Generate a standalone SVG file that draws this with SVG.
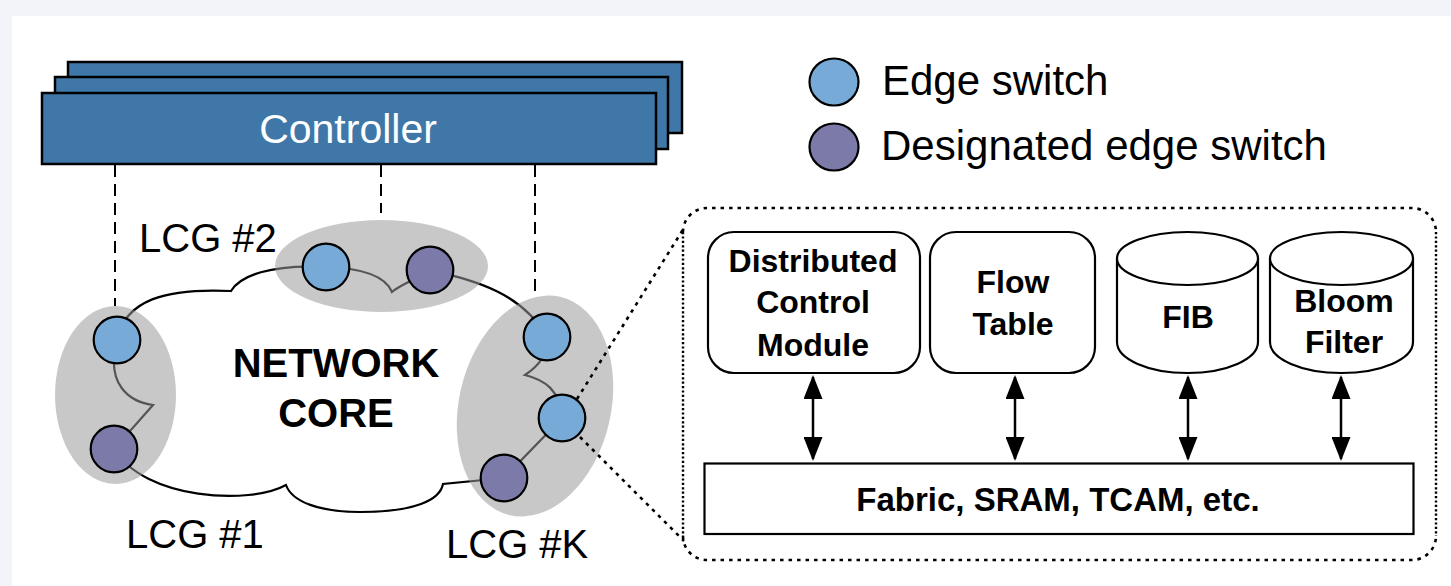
<svg xmlns="http://www.w3.org/2000/svg" width="1451" height="586" viewBox="0 0 1451 586">
  <style>
    .ctrl { fill: #3f78a8; stroke: #000; stroke-width: 2.5; }
    .dash { fill: none; stroke: #000; stroke-width: 2; stroke-dasharray: 12 7; }
    .dots { fill: none; stroke: #000; stroke-width: 2.6; stroke-dasharray: 3.5 5; }
    .dots-v { fill: none; stroke: #000; stroke-width: 2.4; stroke-dasharray: 2.2 2.2; }
    .lcg { fill: #9b9b9b; fill-opacity: 0.55; }
    .edge { fill: #77aad6; stroke: #000; stroke-width: 2.2; }
    .dsw { fill: #7b7aa8; stroke: #000; stroke-width: 2.2; }
    .box { fill: #fff; stroke: #000; stroke-width: 2.2; }
    .arrow { stroke: #000; stroke-width: 2.5; marker-start: url(#head); marker-end: url(#head); }
    .t { font-family: "Liberation Sans", Arial, sans-serif; fill: #000; }
    .tb { font-family: "Liberation Sans", Arial, sans-serif; font-weight: bold; fill: #000; text-anchor: middle; }
  </style>
  <defs>
    <marker id="head" viewBox="0 0 24 19" refX="22" refY="9.5" markerWidth="24" markerHeight="19" markerUnits="userSpaceOnUse" orient="auto-start-reverse">
      <path d="M0,0 L24,9.5 L0,19 Z" fill="#000"/>
    </marker>
  </defs>

  <!-- page -->
  <rect x="0" y="0" width="1451" height="586" fill="#f3f4f9"/>
  <rect x="12" y="16" width="1439" height="570" fill="#fff"/>

  <!-- controller stack -->
  <g id="controller">
    <rect class="ctrl" x="68" y="62" width="614" height="71"/>
    <rect class="ctrl" x="55" y="77" width="613" height="72"/>
    <rect class="ctrl" x="42" y="93" width="614" height="71"/>
    <text class="t" x="348" y="143" font-size="41" style="fill:#fff" text-anchor="middle">Controller</text>
  </g>

  <!-- legend -->
  <g id="legend">
    <ellipse class="edge" cx="834" cy="82" rx="24.5" ry="23.5"/>
    <text class="t" x="882" y="95" font-size="42">Edge switch</text>
    <ellipse class="dsw" cx="834" cy="147" rx="24.5" ry="23.5"/>
    <text class="t" x="881" y="160" font-size="42">Designated edge switch</text>
  </g>

  <!-- network core cloud -->
  <g id="network-core">
    <path fill="#fff" stroke="#000" stroke-width="2.2" d="M117,340 C125,300 165,288 231,291 C240,276 270,264 326,267 C360,268 385,275 392,292 C400,285 415,280 430,270 C470,280 520,290 547,337 C547,355 540,365 525,375 C545,380 560,390 562,418 L504,478 L443,484 C440,500 415,512 360,512 C320,512 292,502 286,485 C250,505 145,500 114,449 L153,405 C130,402 105,385 117,340 Z"/>
    <text class="tb" x="336" y="377" font-size="40">NETWORK</text>
    <text class="tb" x="336" y="427" font-size="40">CORE</text>
  </g>

  <!-- controller links -->
  <g id="connectors">
    <line class="dash" x1="115" y1="165" x2="115" y2="306"/>
    <line class="dash" x1="381" y1="165" x2="381" y2="213"/>
    <line class="dash" x1="535" y1="165" x2="535" y2="297"/>
  </g>

  <!-- local control groups -->
  <g id="lcg-1">
    <ellipse class="lcg" cx="115.5" cy="395" rx="60.5" ry="89"/>
    <circle class="edge" cx="117" cy="340" r="23.3"/>
    <circle class="dsw" cx="114" cy="449" r="23.3"/>
    <text class="t" x="126" y="548" font-size="40">LCG #1</text>
  </g>
  <g id="lcg-2">
    <ellipse class="lcg" cx="381.5" cy="266" rx="106.5" ry="46"/>
    <circle class="edge" cx="326" cy="267" r="23.3"/>
    <circle class="dsw" cx="430" cy="270" r="23.3"/>
    <text class="t" x="139" y="252" font-size="40">LCG #2</text>
  </g>
  <g id="lcg-k">
    <ellipse class="lcg" cx="535" cy="406" rx="76" ry="112" transform="rotate(13 535 406)"/>
    <circle class="edge" cx="547" cy="337" r="23.3"/>
    <circle class="edge" cx="562" cy="418" r="23.3"/>
    <circle class="dsw" cx="504" cy="478" r="23.3"/>
    <text class="t" x="446" y="558" font-size="40">LCG #K</text>
  </g>

  <!-- zoom-in lines to the switch detail -->
  <g id="zoom-lines">
    <line class="dots" x1="577" y1="399" x2="684" y2="228"/>
    <line class="dots" x1="580" y1="437" x2="684" y2="541"/>
  </g>

  <!-- edge switch internals: dotted frame -->
  <g id="switch-detail">
    <path class="dots" d="M683,232 A24,24 0 0 1 707,208 H1412 A24,24 0 0 1 1436,232"/>
    <path class="dots" d="M683,536 A24,24 0 0 0 707,560 H1412 A24,24 0 0 0 1436,536"/>
    <path class="dots-v" d="M683,232 V536 M1436,232 V536"/>
  </g>
  <g id="dcm">
    <rect class="box" x="708" y="232" width="212" height="141" rx="26"/>
    <text class="tb" x="813" y="272" font-size="32">Distributed</text>
    <text class="tb" x="813" y="313" font-size="32">Control</text>
    <text class="tb" x="813" y="356" font-size="32">Module</text>
  </g>
  <g id="flow-table">
    <rect class="box" x="930" y="232" width="165" height="141" rx="26"/>
    <text class="tb" x="1013" y="293" font-size="32">Flow</text>
    <text class="tb" x="1013" y="335" font-size="32">Table</text>
  </g>
  <g id="fib">
    <path class="box" d="M1117,258 L1117,342 A70.5,31 0 0 0 1258,342 L1258,258"/>
    <ellipse class="box" cx="1187.5" cy="258.5" rx="70.5" ry="26.5"/>
    <text class="tb" x="1188" y="328" font-size="32">FIB</text>
  </g>
  <g id="bloom-filter">
    <path class="box" d="M1270,258 L1270,342 A71.5,31 0 0 0 1413,342 L1413,258"/>
    <ellipse class="box" cx="1341.5" cy="258.5" rx="71.5" ry="26.5"/>
    <text class="tb" x="1344" y="312" font-size="32">Bloom</text>
    <text class="tb" x="1344" y="353" font-size="32">Filter</text>
  </g>
  <g id="fabric">
    <rect class="box" x="704.5" y="463.5" width="709" height="70.5"/>
    <text class="tb" x="1058" y="511" font-size="33">Fabric, SRAM, TCAM, etc.</text>
  </g>
  <g id="arrows">
    <line class="arrow" x1="813" y1="377" x2="813" y2="459"/>
    <line class="arrow" x1="1015" y1="377" x2="1015" y2="459"/>
    <line class="arrow" x1="1188" y1="377" x2="1188" y2="459"/>
    <line class="arrow" x1="1341" y1="377" x2="1341" y2="459"/>
  </g>
</svg>
